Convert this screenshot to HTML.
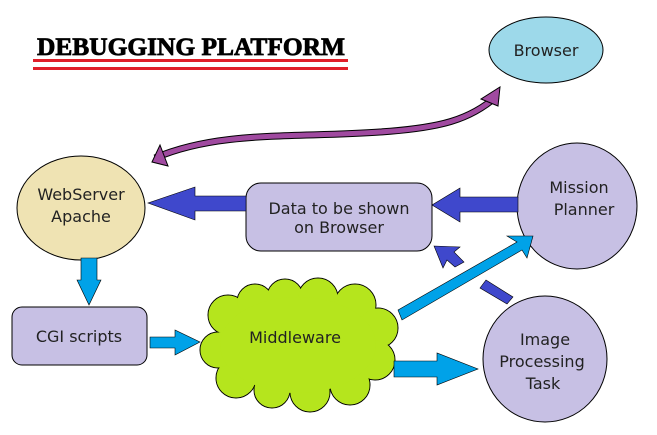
<!DOCTYPE html>
<html><head><style>
html,body{margin:0;padding:0;background:#fff;}
svg{display:block;}
text{font-family:"DejaVu Sans","Liberation Sans",sans-serif;fill:#222;}
</style></head><body>
<svg width="657" height="435" viewBox="0 0 657 435" xmlns="http://www.w3.org/2000/svg">
<text x="37" y="55" style="font-family:'Liberation Serif',serif;font-weight:bold;font-size:25px;fill:#000;stroke:#000;stroke-width:0.8;" textLength="308" lengthAdjust="spacingAndGlyphs">DEBUGGING PLATFORM</text>
<rect x="33" y="59" width="315" height="3" fill="#e0202a"/>
<rect x="33" y="67" width="315" height="3" fill="#e0202a"/>

<ellipse cx="546" cy="50" rx="57" ry="33" fill="#9dd9ea" stroke="#000"/>
<text x="546" y="56" text-anchor="middle" font-size="16">Browser</text>

<path d="M155,158 C220,130 300,138 380,132 C440,128 470,120 497,96" fill="none" stroke="#000" stroke-width="7"/>
<path d="M155,158 C220,130 300,138 380,132 C440,128 470,120 497,96" fill="none" stroke="#a04aa0" stroke-width="5"/>
<polygon points="500,87 498,106 481,99" fill="#a04aa0" stroke="#000"/>
<polygon points="152,162 160,145 168,166" fill="#a04aa0" stroke="#000"/>

<ellipse cx="81" cy="208" rx="64" ry="52" fill="#efe3b3" stroke="#000"/>
<text x="81" y="200" text-anchor="middle" font-size="16">WebServer</text>
<text x="81" y="222" text-anchor="middle" font-size="16">Apache</text>

<rect x="246" y="183" width="186" height="68" rx="15" fill="#c7c0e4" stroke="#000"/>
<text x="339" y="214" text-anchor="middle" font-size="16">Data to be shown</text>
<text x="339" y="233" text-anchor="middle" font-size="16">on Browser</text>

<ellipse cx="577" cy="206" rx="60" ry="63" fill="#c7c0e4" stroke="#000"/>
<text x="579" y="193" text-anchor="middle" font-size="16">Mission</text>
<text x="584" y="215" text-anchor="middle" font-size="16">Planner</text>

<rect x="12" y="307" width="135" height="58" rx="10" fill="#c7c0e4" stroke="#000"/>
<text x="79" y="342" text-anchor="middle" font-size="16">CGI scripts</text>

<ellipse cx="545" cy="359" rx="62" ry="63" fill="#c7c0e4" stroke="#000"/>
<text x="545" y="345" text-anchor="middle" font-size="16">Image</text>
<text x="542" y="367" text-anchor="middle" font-size="16">Processing</text>
<text x="543" y="389" text-anchor="middle" font-size="16">Task</text>

<g fill="#b5e51d" stroke="#000">
<circle cx="228" cy="315" r="20"/><circle cx="255" cy="302" r="18"/><circle cx="285" cy="297" r="18"/>
<circle cx="318" cy="298" r="20"/><circle cx="355" cy="305" r="21"/><circle cx="378" cy="328" r="20"/>
<circle cx="375" cy="360" r="20"/><circle cx="350" cy="385" r="20"/><circle cx="310" cy="392" r="20"/>
<circle cx="272" cy="390" r="18"/><circle cx="236" cy="378" r="20"/><circle cx="218" cy="350" r="18"/>
</g>
<g fill="#b5e51d">
<circle cx="228" cy="315" r="19.5"/><circle cx="255" cy="302" r="17.5"/><circle cx="285" cy="297" r="17.5"/>
<circle cx="318" cy="298" r="19.5"/><circle cx="355" cy="305" r="20.5"/><circle cx="378" cy="328" r="19.5"/>
<circle cx="375" cy="360" r="19.5"/><circle cx="350" cy="385" r="19.5"/><circle cx="310" cy="392" r="19.5"/>
<circle cx="272" cy="390" r="17.5"/><circle cx="236" cy="378" r="19.5"/><circle cx="218" cy="350" r="17.5"/>
<ellipse cx="298" cy="345" rx="78" ry="48"/>
</g>
<text x="295" y="343" text-anchor="middle" font-size="16">Middleware</text>

<polygon points="518,197 460,197 460,188 432,205 460,222 460,212 518,212" fill="#3f48cc" stroke="#000" stroke-width="0.6"/>
<polygon points="246,196 195,196 195,187 148,203 195,220 195,211 246,211" fill="#3f48cc" stroke="#000" stroke-width="0.6"/>
<polygon points="81,258 97,258 97,280 101,280 89,305 77,280 81,280" fill="#00a2e8" stroke="#000" stroke-width="0.6"/>
<polygon points="150,337 175,337 175,330 200,342 175,355 175,348 150,348" fill="#00a2e8" stroke="#000" stroke-width="0.6"/>
<polygon points="394,361 437,361 437,353 478,369 437,385 437,377 394,377" fill="#00a2e8" stroke="#000" stroke-width="0.6"/>
<polygon points="398,310 517,242 507,236 533,236 527,258 522,250 402,320" fill="#00a2e8" stroke="#000" stroke-width="0.6"/>
<polygon points="434,246 460,247 454,252 464,262 455,267 447,260 443,268" fill="#3f48cc" stroke="#000" stroke-width="0.6"/>
<polygon points="480,288 486,280 513,297 507,304" fill="#3f48cc" stroke="#000" stroke-width="0.6"/>
</svg>
</body></html>
